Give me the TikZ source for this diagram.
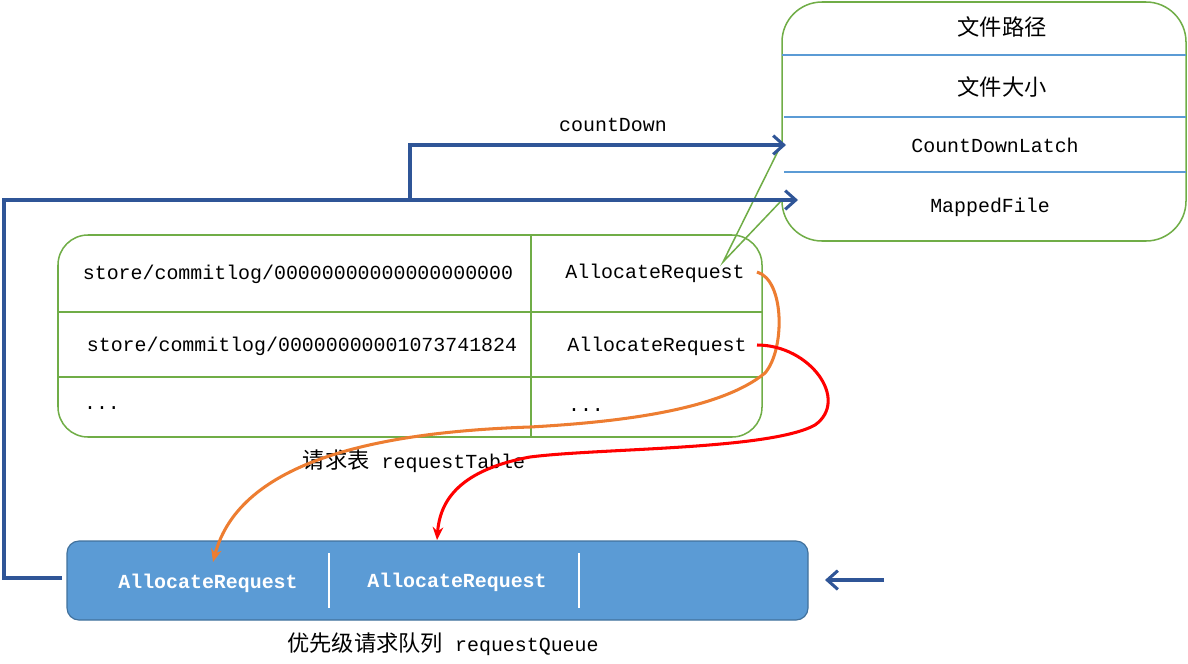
\documentclass[tikz,border=0pt]{standalone}
\usepackage{fontspec}
\setmainfont{Liberation Mono}
\newfontfamily\cjk{Noto Sans CJK SC}
\usetikzlibrary{arrows.meta}
\definecolor{gboxc}{HTML}{70AD47}
\definecolor{sepc}{HTML}{5B9BD5}
\definecolor{qfill}{HTML}{5B9BD5}
\definecolor{qdraw}{HTML}{41719C}
\definecolor{arrc}{HTML}{2F5597}
\definecolor{orc}{HTML}{ED7D31}
\definecolor{redc}{HTML}{FF0000}
\tikzset{
  txt/.style={font=\fontsize{17}{20}\selectfont, inner sep=0pt, text=black},
  cjktxt/.style={font=\fontsize{19}{22}\selectfont\cjk, inner sep=0pt, text=black},
  qtxt/.style={font=\fontsize{17}{20}\selectfont\bfseries, inner sep=0pt, text=white},
  gline/.style={draw=gboxc, line width=1.3pt},
  bline/.style={draw=arrc, line width=3.4pt, -{Straight Barb[length=9pt,width=16pt,line width=2.6pt]}},
  curvearr/.style={line width=2.6pt, -{Stealth[length=11pt,width=9pt]}},
}
\begin{document}
\begin{tikzpicture}[x=0.03cm,y=-0.03cm]
\useasboundingbox (0,0) rectangle (1188,663);
% right callout box
\draw[gline, rounded corners=1.2cm] (782,143) -- (782,2) -- (1186,2) -- (1186,241) -- (782,241) -- (782,200);
\draw[gline] (782,143) -- (723,262) -- (782,200);
\draw[draw=sepc, line width=1pt] (782,55) -- (1186,55);
\draw[draw=sepc, line width=1pt] (784,117) -- (1186,117);
\draw[draw=sepc, line width=1pt] (784,172) -- (1186,172);
\node[cjktxt] (path) at (1002,27) {文件路径};
\node[cjktxt] (size) at (1002,87) {文件大小};
\node[txt] (cdl) at (995,145) {CountDownLatch};
\node[txt] (mf) at (990,207) {MappedFile};
\coordinate (cdlin) at (786,145);
\coordinate (mfin) at (798,200);
% table
\draw[gline, rounded corners=0.9cm] (58,235) rectangle (762,437);
\draw[gline, line width=2pt] (531,235) -- (531,437);
\draw[gline, line width=2pt] (58,312) -- (762,312);
\draw[gline, line width=2pt] (58,377) -- (762,377);
\node[txt] (p1) at (298,274) {store/commitlog/00000000000000000000};
\node[txt] (r1) at (655,273) {AllocateRequest};
\node[txt] (p2) at (302,346) {store/commitlog/00000000001073741824};
\node[txt] (r2) at (657,346) {AllocateRequest};
\node[txt] (d1) at (102,408) {...};
\node[txt] (d2) at (586,410) {...};
\node (tlabel) at (414,461) {\cjk\fontsize{19}{22}\selectfont 请求表\fontsize{17}{20}\selectfont\rmfamily{} requestTable};
% queue
\node[draw=qdraw, fill=qfill, line width=1pt, rounded corners=0.36cm, minimum width=741*0.03cm, minimum height=79*0.03cm, inner sep=0pt] (queue) at (437.5,580.5) {};
\draw[white, line width=2.4pt] (329,553) -- (329,608);
\draw[white, line width=2.4pt] (579,553) -- (579,608);
\node[qtxt] (q1) at (208,583) {AllocateRequest};
\node[qtxt] (q2) at (457,582) {AllocateRequest};
\node (qlabel) at (443,644) {\cjk\fontsize{19}{22}\selectfont 优先级请求队列\fontsize{17}{20}\selectfont\rmfamily{} requestQueue};
% blue arrows
\coordinate (qleft) at (62,578);
\draw[bline] (qleft) -- (4,578) -- (4,200) -- (mfin);
\draw[bline] (410,200) -- (410,145) -- (cdlin);
\node[txt] (cdlabel) at (613,125) {countDown};
\coordinate (rin) at (884,580);
\coordinate (rout) at (825,580);
\draw[bline] (rin) -- (rout);
% curves
\coordinate (q1top) at (213,562);
\coordinate (q2top) at (437,540);
\draw[curvearr, orc] (757,272) .. controls (785,280) and (785,350) .. (765,373)
  .. controls (720,410) and (620,422) .. (530,427)
  .. controls (380,432) and (240,460) .. (q1top);
\draw[curvearr, redc] (757,345) .. controls (810,345) and (850,400) .. (815,425)
  .. controls (770,450) and (600,448) .. (530,457)
  .. controls (460,470) and (440,500) .. (q2top);
\end{tikzpicture}
\end{document}
